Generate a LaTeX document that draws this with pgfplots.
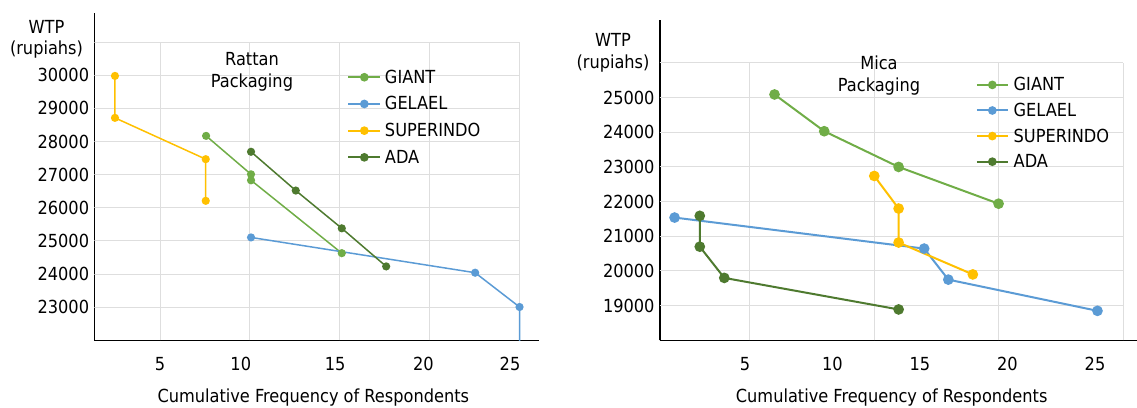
\documentclass[border=0pt]{standalone}
\usepackage{fontspec}
\setmainfont{DejaVu Sans Condensed}
\usepackage{pgfplots}
\pgfplotsset{compat=1.18}
\definecolor{cGiant}{HTML}{70AD47}
\definecolor{cGelael}{HTML}{5B9BD5}
\definecolor{cSuper}{HTML}{FFC000}
\definecolor{cAda}{HTML}{4E7A2F}
\definecolor{cGrid}{HTML}{DEDEDE}
\newcommand{\fs}{\fontsize{18}{21}\selectfont}
\pgfplotsset{
  common/.style={
    scale only axis, anchor=south west,
    axis x line=bottom, axis y line=left,
    axis line style={line width=1.6pt, -, black},
    major tick length=0pt, tick style={draw=none},
    tick label style={font=\fs, inner sep=0pt},
    scaled y ticks=false, scaled x ticks=false,
    /pgf/number format/assume math mode=true,
    /pgf/number format/1000 sep={},
    yticklabel style={anchor=east, xshift=-5pt},
    xticklabel style={anchor=base, yshift=-29.7pt},
    legend style={draw=none, fill=none, inner sep=0pt, outer sep=0pt, row sep=0pt,
      font=\fs, anchor=north west,
      nodes={inner sep=0pt, anchor=base west, text height=13.1pt}},
    legend cell align=left,
  },
}
\begin{document}
\begin{tikzpicture}[font=\fs]
\useasboundingbox (0,0) rectangle (1137pt,407pt);
% ---------------- Left: Rattan
\begin{axis}[common,
  at={(94.3pt,66.7pt)}, width=445pt, height=327pt,
  xmin=1.34, xmax=26.1, ymin=22000, ymax=31870,
  xtick={5,9.49,14.74,19.65,24.47}, xticklabels={5,10,15,20,25},
  ytick={23000,24000,25000,26000,27000,28000,29000,30000},
  legend style={at={(axis cs:15.41,30154)}, column sep=3.5pt,
    nodes={text depth=13.6pt}},
  legend image code/.code={\draw[mark repeat=2,mark phase=2,#1,line width=2pt,mark size=3.3pt] plot coordinates {(0pt,6pt) (16.15pt,6pt) (32.3pt,6pt)};},
]
\pgfplotsinvokeforeach{23000,24000,25000,26000,27000,28000,29000,30000,31000}{\draw[cGrid, line width=1pt] (axis cs:1.34,#1) -- (axis cs:25,#1);}
\pgfplotsinvokeforeach{5,10,15,20,25}{\draw[cGrid, line width=1pt] (axis cs:#1,22000) -- (axis cs:#1,31000);}
\addplot[cGiant, line width=1.5pt, mark=*, mark size=3.3pt] coordinates {(7.56,28170) (10.06,27010) (10.06,26830) (15.11,24630)};
\addplot[cGelael, line width=1.5pt, mark=*, mark size=3.3pt] coordinates {(10.06,25105) (22.53,24040) (25.0,23005) (25.0,21000)};
\addplot[cSuper, line width=1.5pt, mark=*, mark size=3.3pt] coordinates {(2.49,29980) (2.49,28714) (7.54,27467) (7.54,26210)};
\addplot[cAda, line width=1.5pt, mark=*, mark size=3.3pt] coordinates {(10.06,27690) (12.55,26520) (15.11,25380) (17.58,24230)};
\legend{GIANT,GELAEL,SUPERINDO,ADA}
\end{axis}
% ---------------- Right: Mica
\begin{axis}[common,
  at={(659.7pt,66.7pt)}, width=477.3pt, height=320.3pt,
  xmin=0.13, xmax=27.4, ymin=18000, ymax=27238,
  xtick={5,10,15,20,25},
  ytick={19000,20000,21000,22000,23000,24000,25000},
  legend style={at={(axis cs:18.2,25571)}, column sep=5pt,
    nodes={text depth=12.5pt}},
  legend image code/.code={\draw[mark repeat=2,mark phase=2,#1,line width=2pt,mark size=3.3pt] plot coordinates {(0pt,6pt) (15.35pt,6pt) (30.7pt,6pt)};},
]
\pgfplotsinvokeforeach{19000,20000,21000,22000,23000,24000,25000,26000}{\draw[cGrid, line width=1pt] (axis cs:0.13,#1) -- (axis cs:26.62,#1);}
\pgfplotsinvokeforeach{5.286,12.396,19.506,26.617}{\draw[cGrid, line width=1pt] (axis cs:#1,18000) -- (axis cs:#1,26000);}
\addplot[cGiant, line width=2pt, mark=*, mark size=4.3pt] coordinates {(6.69,25090) (9.53,24030) (13.78,23000) (19.49,21940)};
\addplot[cGelael, line width=2pt, mark=*, mark size=4.3pt] coordinates {(0.98,21540) (15.24,20645) (16.62,19750) (25.14,18850)};
\addplot[cSuper, line width=2pt, mark=*, mark size=4.3pt] coordinates {(12.39,22740) (13.78,21800) (13.78,20820) (18.02,19900)};
\addplot[cAda, line width=2pt, mark=*, mark size=4.3pt] coordinates {(2.42,21590) (2.42,20700) (3.82,19800) (13.78,18890)};
\legend{GIANT,GELAEL,SUPERINDO,ADA}
\end{axis}
% ---------------- Texts
\begin{scope}[every node/.style={inner sep=0pt, anchor=base, font=\fs}]
\node at (46.5pt,373.7pt) {WTP};
\node at (46.5pt,352pt) {(rupiahs)};
\node at (252pt,341.3pt) {Rattan};
\node at (252pt,319.7pt) {Packaging};
\node at (313.3pt,4.3pt) {Cumulative Frequency of Respondents};
\node at (613pt,360.3pt) {WTP};
\node at (613pt,338.7pt) {(rupiahs)};
\node at (879pt,337.7pt) {Mica};
\node at (879pt,315.3pt) {Packaging};
\node at (891.7pt,4.3pt) {Cumulative Frequency of Respondents};
\end{scope}
\end{tikzpicture}
\end{document}
